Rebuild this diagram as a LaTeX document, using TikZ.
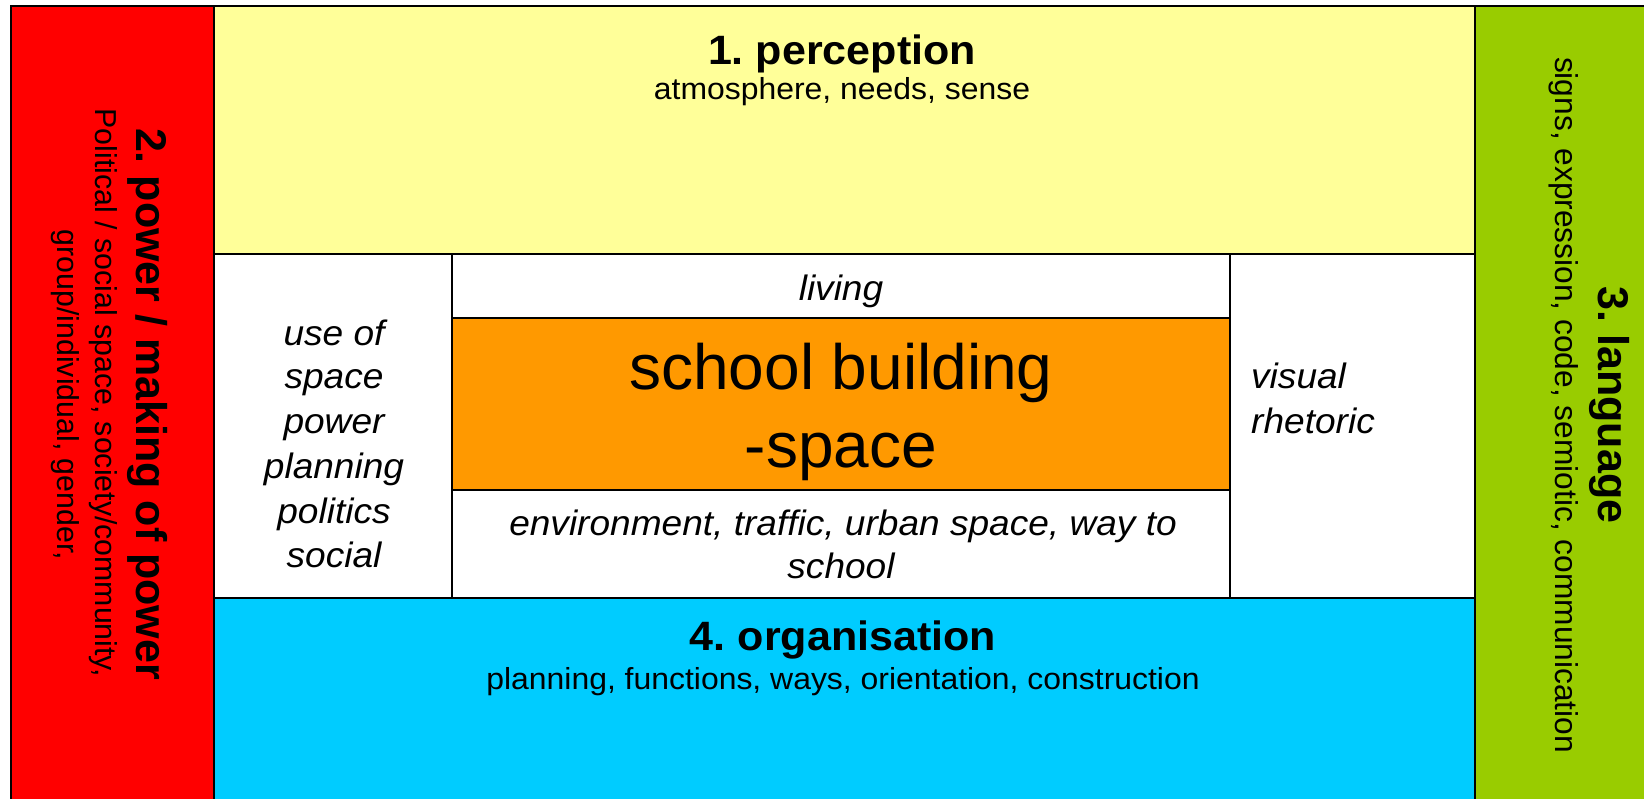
\documentclass[tikz,border=0pt]{standalone}
\usepackage{fontspec}
\setmainfont{Liberation Sans}
\newfontfamily\widefont[FakeStretch=1.05]{Liberation Sans}
\definecolor{redc}{HTML}{FF0000}
\definecolor{yellowc}{HTML}{FFFF99}
\definecolor{greenc}{HTML}{99CC00}
\definecolor{bluec}{HTML}{00CCFF}
\definecolor{orangec}{HTML}{FF9900}
\frenchspacing
\begin{document}
\begin{tikzpicture}[x=1pt,y=-1pt,
  box/.style={draw=black, line width=1.6pt},
  htitle/.style={anchor=base, inner sep=0pt, font={\widefont\fontsize{41}{48}\selectfont\bfseries}},
  hsub/.style={anchor=base, inner sep=0pt, font={\widefont\fontsize{30.4}{36}\selectfont}},
  vtitle/.style={anchor=base, inner sep=0pt, rotate=-90, font={\fontsize{43}{50}\selectfont\bfseries}},
  vsubr/.style={anchor=base, inner sep=0pt, rotate=-90, font={\fontsize{30.3}{36}\selectfont}},
  vsubg/.style={anchor=base, inner sep=0pt, rotate=-90, font={\fontsize{31.7}{38}\selectfont}},
  itl/.style={anchor=base, inner sep=0pt, font={\widefont\fontsize{35.3}{42}\selectfont\itshape}},
  big/.style={anchor=base, inner sep=0pt, font={\fontsize{64}{76}\selectfont}}]
\useasboundingbox (0,0) rectangle (1644,798);
\fill[white] (0,0) rectangle (1644,798);
% panels
\filldraw[box, fill=redc] (11,6) rectangle (214,830);
\filldraw[box, fill=greenc] (1475,6) rectangle (1680,830);
\filldraw[box, fill=yellowc] (214,6) rectangle (1475,254);
\filldraw[box, fill=bluec] (214,598) rectangle (1475,830);
\filldraw[box, fill=white] (214,254) rectangle (452,598);
\filldraw[box, fill=white] (1230,254) rectangle (1475,598);
\filldraw[box, fill=white] (452,254) rectangle (1230,318);
\filldraw[box, fill=orangec] (452,318) rectangle (1230,490);
\filldraw[box, fill=white] (452,490) rectangle (1230,598);
% 1. perception
\node[htitle] (pt) at (842,64) {1. perception};
\node[hsub] (ps) at (842,99) {atmosphere, needs, sense};
% 4. organisation
\node[htitle] (ot) at (843,650) {4. organisation};
\node[hsub] (os) at (843,689) {planning, functions, ways, orientation, construction};
% 2. power
\node[vtitle] (wt) at (136,404) {2. power / making of power};
\node[vsubr] (ws1) at (95,393) {Political / social space, society/community,};
\node[vsubr] (ws2) at (57,395) {group/individual, gender,};
% 3. language
\node[vtitle] (lt) at (1598,405) {3. language};
\node[vsubg] (ls) at (1555,405) {signs, expression, code, semiotic, communication};
% left column
\node[itl] (u1) at (334,345) {use of};
\node[itl] (u2) at (334,388) {space};
\node[itl] (u3) at (334,433) {power};
\node[itl] (u4) at (334,478) {planning};
\node[itl] (u5) at (334,523) {politics};
\node[itl] (u6) at (334,567) {social};
% right column
\node[itl, anchor=base west] (v1) at (1251,388) {visual};
\node[itl, anchor=base west] (v2) at (1251,433) {rhetoric};
% centre
\node[itl] (liv) at (841,300) {living};
\node[big] (sb1) at (841,389) {school building};
\node[big] (sb2) at (841,467) {-space};
\node[itl] (env1) at (843,535) {environment, traffic, urban space, way to};
\node[itl] (env2) at (841,578) {school};
\end{tikzpicture}
\end{document}
